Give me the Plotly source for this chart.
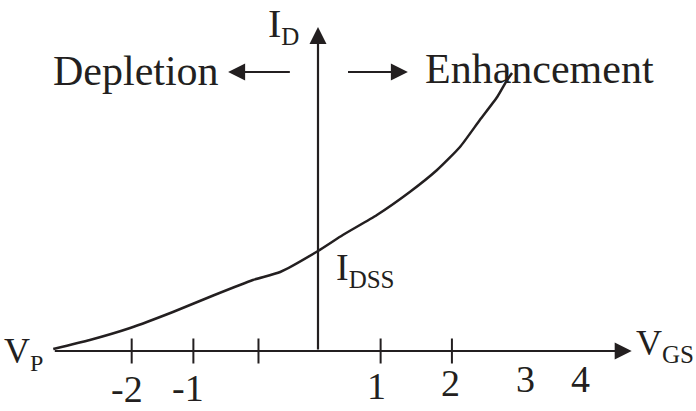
import plotly.graph_objects as go

# Transfer characteristic of a depletion/enhancement MOSFET (schematic)
# x: gate-source voltage position, y: drain current relative to I_DSS
vgs = [-4.27, -3.68, -3.03, -2.34, -1.69, -1.05, -0.61, 0.0, 0.40, 0.95,
       1.48, 1.92, 2.29, 2.61, 2.89, 3.05, 3.13]
id_rel = [0.02, 0.11, 0.23, 0.39, 0.555, 0.71, 0.79, 1.0, 1.16, 1.36,
          1.59, 1.81, 2.04, 2.31, 2.54, 2.71, 2.78]

# tick marks on the V_GS axis and the numbers written beneath it
tick_x = [-3.005, -2.01, -0.96, 1.01, 2.16]
label_text = ["-2", "-1", "1", "2", "3", "4"]
label_x = [-3.08, -2.10, 0.95, 2.13, 3.35, 4.23]
label_y = [-0.38, -0.37, -0.35, -0.32, -0.28, -0.28]

# axis extents
x_start, x_end = -4.27, 5.06
y_end = 3.24
tick_half = 0.125

INK = "#231f20"
FONT = "'Liberation Serif', 'Times New Roman', Tinos, serif"

fig = go.Figure()

# characteristic curve
fig.add_trace(go.Scatter(
    x=vgs, y=id_rel, mode="lines",
    line=dict(color=INK, width=2.5, shape="spline", smoothing=0.5),
    hoverinfo="skip", showlegend=False))

# tick marks
tx, ty = [], []
for t in tick_x:
    tx += [t, t, None]
    ty += [tick_half, -tick_half, None]
fig.add_trace(go.Scatter(
    x=tx, y=ty, mode="lines", line=dict(color=INK, width=2),
    hoverinfo="skip", showlegend=False))

annotations = []


def arrow(x0, y0, x1, y1):
    annotations.append(dict(
        x=x1, y=y1, ax=x0, ay=y0, xref="x", yref="y", axref="x", ayref="y",
        showarrow=True, arrowhead=2, arrowwidth=2.2, arrowsize=1.55,
        arrowcolor=INK, text=""))


# axes drawn as arrows
arrow(x_start, 0, x_end, 0)
arrow(0, 0, 0, y_end)
# direction arrows for the two modes
arrow(-0.43, 2.79, -1.45, 2.79)
arrow(0.46, 2.79, 1.45, 2.79)


def label(text, x, y, size, xanchor="center", yanchor="middle"):
    annotations.append(dict(
        x=x, y=y, xref="x", yref="y", text=text, showarrow=False,
        xanchor=xanchor, yanchor=yanchor,
        font=dict(family=FONT, size=size, color=INK)))


def sub(s, size):
    return "<sub><span style='font-size:%dpx'>%s</span></sub>" % (size, s)


for t, x, y in zip(label_text, label_x, label_y):
    label(t, x, y, 38)

label("Depletion", -2.935, 2.805, 42)
label("Enhancement", 3.58, 2.82, 42)
label("I" + sub("D", 25), -0.84, 3.255, 40, xanchor="left")
label("I" + sub("DSS", 25), 0.25, 0.82, 38, xanchor="left")
label("V" + sub("P", 24), -4.40, -0.02, 36, xanchor="right")
label("V" + sub("GS", 25), 5.10, 0.06, 36, xanchor="left")

fig.update_layout(
    width=696, height=411,
    margin=dict(l=0, r=0, t=0, b=0),
    paper_bgcolor="white", plot_bgcolor="white",
    xaxis=dict(range=[-318 / 62, (696 - 318) / 62], visible=False, fixedrange=True),
    yaxis=dict(range=[(351 - 411) / 100, 351 / 100], visible=False, fixedrange=True),
    annotations=annotations,
    showlegend=False,
)

fig.write_html("out.html")
